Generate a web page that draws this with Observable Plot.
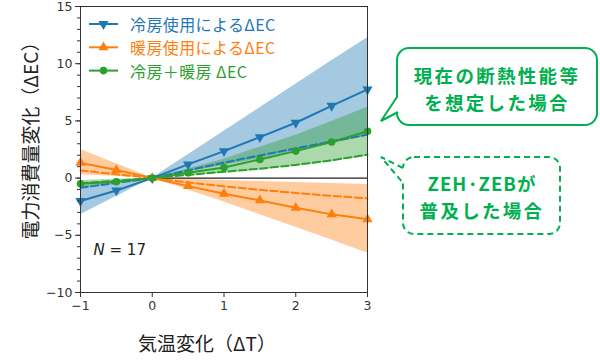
<!DOCTYPE html>
<html>
<head>
<meta charset="utf-8">
<script src="https://cdn.jsdelivr.net/npm/d3@7"></script>
<script src="https://cdn.jsdelivr.net/npm/@observablehq/plot@0.6"></script>
<style>
  html, body { margin: 0; padding: 0; background: #fff; }
  #chart { width: 600px; height: 363px; }
</style>
</head>
<body>
<div id="chart"></div>
<script>
// ---- data ----
const xs = [-1, -0.5, 0, 0.5, 1, 1.5, 2, 2.5, 3];

const coolMean = [-2.0, -1.08, 0, 1.2, 2.36, 3.58, 4.84, 6.32, 7.75];
const coolLow  = [-3.2, -1.6, 0, 0.55, 1.1, 1.7, 2.35, 3.0, 3.67];
const coolHigh = [-0.7, -0.35, 0, 2.05, 4.1, 6.15, 8.2, 10.25, 12.27];
const coolZeh  = [-0.85, -0.42, 0, 0.68, 1.35, 1.98, 2.6, 3.2, 3.8];

const heatMean = [1.34, 0.7, 0, -0.7, -1.37, -1.95, -2.6, -3.17, -3.6];
const heatLow  = [0.3, 0.15, 0, -1.05, -2.1, -3.2, -4.3, -5.4, -6.55];
const heatHigh = [2.5, 1.25, 0, -0.1, -0.2, -0.3, -0.38, -0.47, -0.55];
const heatZeh  = [0.67, 0.33, 0, -0.38, -0.72, -1.02, -1.3, -1.55, -1.78];

const totalMean = [-0.5, -0.32, 0, 0.46, 0.92, 1.63, 2.36, 3.15, 4.1];
const totalLow  = [-0.85, -0.42, 0, 0.22, 0.45, 0.72, 1.05, 1.45, 1.92];
const totalHigh = [-0.2, -0.1, 0, 0.8, 1.65, 2.7, 3.75, 4.95, 6.2];
const totalZeh  = [-0.45, -0.22, 0, 0.28, 0.55, 0.82, 1.15, 1.55, 2.05];

const seriesNames = ["冷房使用によるΔEC", "暖房使用によるΔEC", "冷房＋暖房 ΔEC"];
const xTicks = [-1, 0, 1, 2, 3];
const yTicks = [-10, -5, 0, 5, 10, 15];
const yMinor = d3.range(-10, 16);
const xDomain = [-1, 3];
const yDomain = [-10, 15];
const zeroLineFrom = 0;
const sampleN = 17;
const xLabel = "気温変化（ΔT）";
const yLabel = "電力消費量変化（ΔEC）";
const callout1 = ["現在の断熱性能等", "を想定した場合"];
const callout2 = ["ZEH·ZEBが", "普及した場合"];

// ---- build tables ----
const colors = {cool: "#1f77b4", heat: "#ff7f0e", total: "#2ca02c"};
function rows(mean, low, high, zeh) {
  return xs.map((x, i) => ({x, mean: mean[i], low: low[i], high: high[i], zeh: zeh[i]}));
}
const cool = rows(coolMean, coolLow, coolHigh, coolZeh);
const heat = rows(heatMean, heatLow, heatHigh, heatZeh);
const total = rows(totalMean, totalLow, totalHigh, totalZeh);

const fmt = d => d < 0 ? "\u2212" + Math.abs(d) : String(d);
const dash = "7.4,3.2";

const plot = Plot.plot({
  width: 600,
  height: 363,
  marginLeft: 80,
  marginRight: 233,
  marginTop: 6,
  marginBottom: 71,
  style: {fontFamily: "DejaVu Sans, sans-serif", fontSize: "12px", color: "#333", background: "#fff"},
  x: {domain: xDomain},
  y: {domain: yDomain},
  marks: [
    Plot.areaY(cool, {x: "x", y1: "low", y2: "high", fill: colors.cool, fillOpacity: 0.4}),
    Plot.areaY(heat, {x: "x", y1: "low", y2: "high", fill: colors.heat, fillOpacity: 0.4}),
    Plot.areaY(total, {x: "x", y1: "low", y2: "high", fill: colors.total, fillOpacity: 0.4}),
    Plot.ruleY([0], {x1: zeroLineFrom, x2: xDomain[1], stroke: "#222", strokeWidth: 1.2}),
    Plot.lineY(cool, {x: "x", y: "zeh", stroke: colors.cool, strokeWidth: 2, strokeDasharray: dash}),
    Plot.lineY(heat, {x: "x", y: "zeh", stroke: colors.heat, strokeWidth: 2, strokeDasharray: dash}),
    Plot.lineY(total, {x: "x", y: "zeh", stroke: colors.total, strokeWidth: 2, strokeDasharray: dash}),
    Plot.lineY(cool, {x: "x", y: "mean", stroke: colors.cool, strokeWidth: 2}),
    Plot.lineY(heat, {x: "x", y: "mean", stroke: colors.heat, strokeWidth: 2}),
    Plot.lineY(total, {x: "x", y: "mean", stroke: colors.total, strokeWidth: 2}),
    Plot.dot(cool, {x: "x", y: "mean", symbol: "triangle", rotate: 180, r: 3.8, fill: colors.cool, stroke: "none"}),
    Plot.dot(heat, {x: "x", y: "mean", symbol: "triangle", r: 3.8, fill: colors.heat, stroke: "none"}),
    Plot.dot(total, {x: "x", y: "mean", symbol: "circle", r: 3.8, fill: colors.total, stroke: "none"}),
    Plot.axisY({ticks: yMinor, tickSize: 3, tickFormat: () => "", label: null}),
    Plot.axisY({ticks: yTicks, tickSize: 5, tickPadding: 3, tickFormat: fmt, label: null, fontSize: 12.5}),
    Plot.axisX({ticks: xTicks, tickSize: 5, tickPadding: 4, tickFormat: fmt, label: null, fontSize: 12.5}),
    Plot.frame({stroke: "#333", strokeWidth: 1}),
    Plot.text([`N = ${sampleN}`], {frameAnchor: "bottom-left", dx: 13, dy: -38, text: d => d, fontSize: 15, fill: "#222", textAnchor: "start"})
  ]
});
document.getElementById("chart").appendChild(plot);

// ---- overlays: labels, legend, callouts ----
const svg = d3.select(plot);
const cjk = "'Noto Sans CJK JP', 'Noto Sans', sans-serif";

// italic N
svg.selectAll("text").filter(function() { return this.textContent === `N = ${sampleN}`; })
  .each(function() {
    const t = d3.select(this);
    t.text(null);
    t.append("tspan").attr("font-style", "italic").text("N");
    t.append("tspan").text(` = ${sampleN}`);
  });

svg.append("text")
  .attr("transform", "translate(29,136) rotate(-90)")
  .attr("text-anchor", "middle").attr("dominant-baseline", "central")
  .attr("font-family", cjk).attr("font-size", 19).attr("fill", "#222")
  .text(yLabel);
svg.append("text")
  .attr("x", 207).attr("y", 342)
  .attr("text-anchor", "middle").attr("dominant-baseline", "central")
  .attr("font-family", cjk).attr("font-size", 19).attr("fill", "#222")
  .text(xLabel);

// legend
const legendItems = [
  {name: seriesNames[0], color: colors.cool, sym: d3.symbolTriangle, rot: 180},
  {name: seriesNames[1], color: colors.heat, sym: d3.symbolTriangle, rot: 0},
  {name: seriesNames[2], color: colors.total, sym: d3.symbolCircle, rot: 0}
];
const lg = svg.append("g");
legendItems.forEach((it, i) => {
  const y = 24 + i * 23.3;
  lg.append("line").attr("x1", 89).attr("x2", 118).attr("y1", y).attr("y2", y)
    .attr("stroke", it.color).attr("stroke-width", 2);
  lg.append("path").attr("d", d3.symbol(it.sym, Math.PI * 3.8 * 3.8)())
    .attr("transform", `translate(103.5,${y}) rotate(${it.rot})`).attr("fill", it.color);
  lg.append("text").attr("x", 130).attr("y", y).attr("dominant-baseline", "central")
    .attr("text-anchor", "start").attr("letter-spacing", 0.4)
    .attr("font-family", cjk).attr("font-size", 16).attr("fill", it.color).text(it.name);
});

// callouts
const cg = "#00b050";
const c1 = svg.append("g");
c1.append("rect").attr("x", 397).attr("y", 48).attr("width", 200).attr("height", 77).attr("rx", 12)
  .attr("fill", "#fff").attr("stroke", cg).attr("stroke-width", 2);
c1.append("path").attr("d", "M398,97 L381,121 L398,112 Z").attr("fill", "#fff").attr("stroke", "none");
c1.append("path").attr("d", "M397,97 L381,121 L398,112").attr("fill", "none").attr("stroke", cg).attr("stroke-width", 2).attr("stroke-linejoin", "miter");
callout1.forEach((t, i) => {
  c1.append("text").attr("x", 497).attr("y", 75 + i * 27).attr("text-anchor", "middle")
    .attr("dominant-baseline", "central").attr("font-family", cjk).attr("font-weight", "bold")
    .attr("font-size", 18.5).attr("letter-spacing", 2.3).attr("fill", cg).text(t);
});

const c2 = svg.append("g");
c2.append("rect").attr("x", 403).attr("y", 157).attr("width", 157).attr("height", 77).attr("rx", 11)
  .attr("fill", "#fff").attr("stroke", cg).attr("stroke-width", 2).attr("stroke-dasharray", "6,4");
c2.append("path").attr("d", "M404,168 L381,157 L404,183 Z").attr("fill", "#fff").attr("stroke", "none");
c2.append("path").attr("d", "M403,168 L381,157 L403,183").attr("fill", "none").attr("stroke", cg).attr("stroke-width", 2).attr("stroke-dasharray", "6,4");
callout2.forEach((t, i) => {
  c2.append("text").attr("x", 482).attr("y", 183 + i * 27).attr("text-anchor", "middle")
    .attr("dominant-baseline", "central").attr("font-family", cjk).attr("font-weight", "bold")
    .attr("font-size", 18.5).attr("letter-spacing", i === 0 ? 1 : 2.3).attr("fill", cg).text(t);
});
</script>
</body>
</html>
